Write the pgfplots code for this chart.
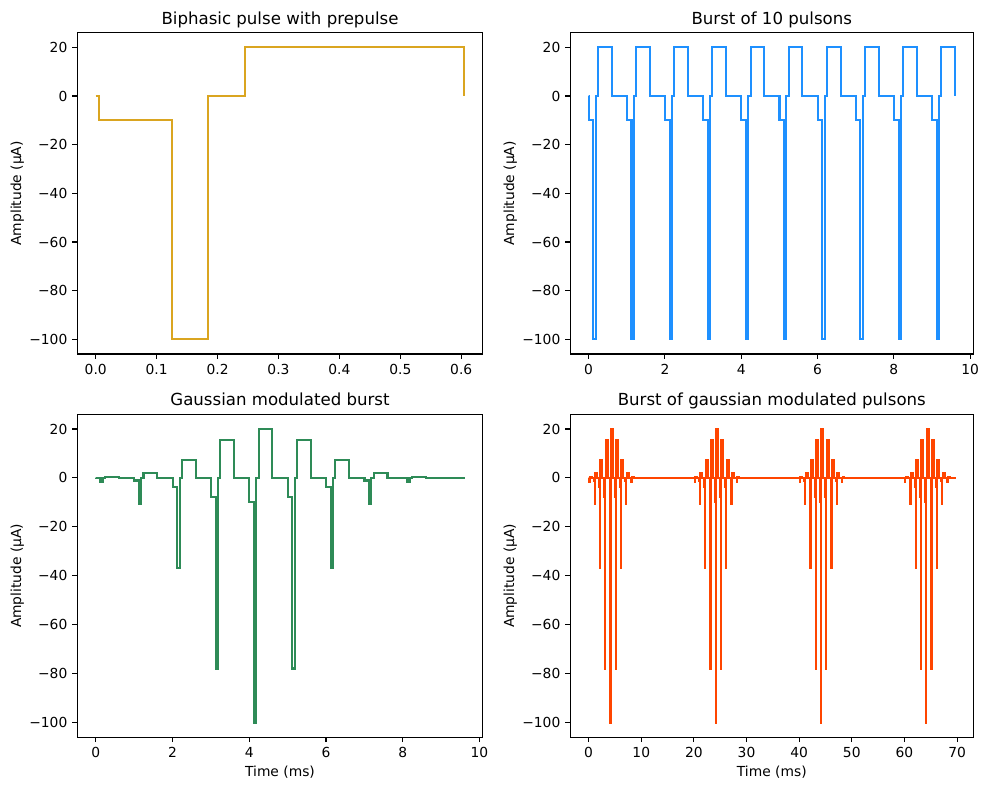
\documentclass[border=0pt]{standalone}
\usepackage{fontspec}
\setmainfont{DejaVu Sans}
\usepackage{pgfplots}
\pgfplotsset{compat=1.18}
\definecolor{cgold}{RGB}{218,165,32}
\definecolor{cblue}{RGB}{30,144,255}
\definecolor{cgreen}{RGB}{46,139,87}
\definecolor{cred}{RGB}{255,69,0}
\pgfplotsset{
  myax/.style={
    scale only axis,
    anchor=south west,
    axis line style={line width=0.8pt},
    every tick/.style={black, line width=0.8pt},
    major tick length=3.5pt,
    tick align=outside,
    xtick pos=bottom, ytick pos=left,
    minor tick num=0,
    ymin=-106, ymax=26,
    ytick={-100,-80,-60,-40,-20,0,20},
    yticklabels={−100,−80,−60,−40,−20,0,20},
    tick label style={font=\fontsize{10}{12}\selectfont},
    xticklabel style={inner sep=0pt, yshift=-3.5pt},
    yticklabel style={inner sep=0pt, xshift=-3.5pt},
    every axis title/.style={at={(axis description cs:0.5,1)}, anchor=base, yshift=6pt, inner sep=0pt, font=\fontsize{12}{14}\selectfont},
    ylabel={Amplitude (µA)},
    label style={font=\fontsize{10}{12}\selectfont},
    every axis y label/.style={at={(axis description cs:-0.148,0.5)}, rotate=90, anchor=center, inner sep=0pt},
    every axis x label/.style={at={(axis description cs:0.5,-0.107)}, anchor=center, inner sep=0pt},
    every axis plot/.append style={line width=1.5pt, line join=miter, miter limit=2},
  }
}
\begin{document}
\begin{tikzpicture}
\path[use as bounding box, fill=white] (0,0) rectangle (9.89in,7.90in);
% top-left
\begin{axis}[myax, at={(0.773in,4.36in)}, width=4.054in, height=3.213in,
  xmin=-0.03025, xmax=0.63525,
  xtick={0,0.1,0.2,0.3,0.4,0.5,0.6},
  xticklabels={0.0,0.1,0.2,0.3,0.4,0.5,0.6},
  title={Biphasic pulse with prepulse}]
\addplot[cgold, const plot] coordinates {
(0,0) (0.005,-10) (0.125,-100) (0.185,0) (0.245,20) (0.605,0)
};
\end{axis}
% top-right
\begin{axis}[myax, at={(5.703in,4.36in)}, width=4.03in, height=3.213in,
  xmin=-0.48025, xmax=10.08525,
  xtick={0,2,4,6,8,10}, xticklabels={0,2,4,6,8,10},
  every axis y label/.style={at={(axis description cs:-0.149,0.5)}, rotate=90, anchor=center, inner sep=0pt},
  title={Burst of 10 pulsons}]
\addplot[cblue, const plot] coordinates {
(0,0)
(0.005,-10) (0.125,-100) (0.185,0) (0.245,20) (0.605,0)
(1.005,-10) (1.125,-100) (1.185,0) (1.245,20) (1.605,0)
(2.005,-10) (2.125,-100) (2.185,0) (2.245,20) (2.605,0)
(3.005,-10) (3.125,-100) (3.185,0) (3.245,20) (3.605,0)
(4.005,-10) (4.125,-100) (4.185,0) (4.245,20) (4.605,0)
(5.005,-10) (5.125,-100) (5.185,0) (5.245,20) (5.605,0)
(6.005,-10) (6.125,-100) (6.185,0) (6.245,20) (6.605,0)
(7.005,-10) (7.125,-100) (7.185,0) (7.245,20) (7.605,0)
(8.005,-10) (8.125,-100) (8.185,0) (8.245,20) (8.605,0)
(9.005,-10) (9.125,-100) (9.185,0) (9.245,20) (9.605,0)
};
\end{axis}
% bottom-left
\begin{axis}[myax, at={(0.773in,0.527in)}, width=4.054in, height=3.23in,
  xmin=-0.48025, xmax=10.08525,
  xtick={0,2,4,6,8,10}, xticklabels={0,2,4,6,8,10},
  xlabel={Time (ms)},
  title={Gaussian modulated burst}]
\addplot[cgreen, const plot] coordinates {
(0,0)
(0.005,-0.183) (0.125,-1.83) (0.185,0) (0.245,0.366) (0.605,0)
(1.005,-1.054) (1.125,-10.54) (1.185,0) (1.245,2.108) (1.605,0)
(2.005,-3.679) (2.125,-36.79) (2.185,0) (2.245,7.358) (2.605,0)
(3.005,-7.788) (3.125,-77.88) (3.185,0) (3.245,15.576) (3.605,0)
(4.005,-10) (4.125,-100) (4.185,0) (4.245,20) (4.605,0)
(5.005,-7.788) (5.125,-77.88) (5.185,0) (5.245,15.576) (5.605,0)
(6.005,-3.679) (6.125,-36.79) (6.185,0) (6.245,7.358) (6.605,0)
(7.005,-1.054) (7.125,-10.54) (7.185,0) (7.245,2.108) (7.605,0)
(8.005,-0.183) (8.125,-1.83) (8.185,0) (8.245,0.366) (8.605,0)
(9.005,-0.019) (9.125,-0.193) (9.185,0) (9.245,0.039) (9.605,0)
};
\end{axis}
% bottom-right
\begin{axis}[myax, at={(5.703in,0.527in)}, width=4.03in, height=3.23in,
  xmin=-3.48025, xmax=73.08525,
  xtick={0,10,20,30,40,50,60,70}, xticklabels={0,10,20,30,40,50,60,70},
  xlabel={Time (ms)},
  every axis y label/.style={at={(axis description cs:-0.149,0.5)}, rotate=90, anchor=center, inner sep=0pt},
  title={Burst of gaussian modulated pulsons}]
\addplot[cred, const plot] coordinates {
(0,0)
(0.005,-0.183) (0.125,-1.83) (0.185,0) (0.245,0.366) (0.605,0)
(1.005,-1.054) (1.125,-10.54) (1.185,0) (1.245,2.108) (1.605,0)
(2.005,-3.679) (2.125,-36.79) (2.185,0) (2.245,7.358) (2.605,0)
(3.005,-7.788) (3.125,-77.88) (3.185,0) (3.245,15.576) (3.605,0)
(4.005,-10) (4.125,-100) (4.185,0) (4.245,20) (4.605,0)
(5.005,-7.788) (5.125,-77.88) (5.185,0) (5.245,15.576) (5.605,0)
(6.005,-3.679) (6.125,-36.79) (6.185,0) (6.245,7.358) (6.605,0)
(7.005,-1.054) (7.125,-10.54) (7.185,0) (7.245,2.108) (7.605,0)
(8.005,-0.183) (8.125,-1.83) (8.185,0) (8.245,0.366) (8.605,0)
(9.005,-0.019) (9.125,-0.193) (9.185,0) (9.245,0.039) (9.605,0)
(20.005,-0.183) (20.125,-1.83) (20.185,0) (20.245,0.366) (20.605,0)
(21.005,-1.054) (21.125,-10.54) (21.185,0) (21.245,2.108) (21.605,0)
(22.005,-3.679) (22.125,-36.79) (22.185,0) (22.245,7.358) (22.605,0)
(23.005,-7.788) (23.125,-77.88) (23.185,0) (23.245,15.576) (23.605,0)
(24.005,-10) (24.125,-100) (24.185,0) (24.245,20) (24.605,0)
(25.005,-7.788) (25.125,-77.88) (25.185,0) (25.245,15.576) (25.605,0)
(26.005,-3.679) (26.125,-36.79) (26.185,0) (26.245,7.358) (26.605,0)
(27.005,-1.054) (27.125,-10.54) (27.185,0) (27.245,2.108) (27.605,0)
(28.005,-0.183) (28.125,-1.83) (28.185,0) (28.245,0.366) (28.605,0)
(29.005,-0.019) (29.125,-0.193) (29.185,0) (29.245,0.039) (29.605,0)
(40.005,-0.183) (40.125,-1.83) (40.185,0) (40.245,0.366) (40.605,0)
(41.005,-1.054) (41.125,-10.54) (41.185,0) (41.245,2.108) (41.605,0)
(42.005,-3.679) (42.125,-36.79) (42.185,0) (42.245,7.358) (42.605,0)
(43.005,-7.788) (43.125,-77.88) (43.185,0) (43.245,15.576) (43.605,0)
(44.005,-10) (44.125,-100) (44.185,0) (44.245,20) (44.605,0)
(45.005,-7.788) (45.125,-77.88) (45.185,0) (45.245,15.576) (45.605,0)
(46.005,-3.679) (46.125,-36.79) (46.185,0) (46.245,7.358) (46.605,0)
(47.005,-1.054) (47.125,-10.54) (47.185,0) (47.245,2.108) (47.605,0)
(48.005,-0.183) (48.125,-1.83) (48.185,0) (48.245,0.366) (48.605,0)
(49.005,-0.019) (49.125,-0.193) (49.185,0) (49.245,0.039) (49.605,0)
(60.005,-0.183) (60.125,-1.83) (60.185,0) (60.245,0.366) (60.605,0)
(61.005,-1.054) (61.125,-10.54) (61.185,0) (61.245,2.108) (61.605,0)
(62.005,-3.679) (62.125,-36.79) (62.185,0) (62.245,7.358) (62.605,0)
(63.005,-7.788) (63.125,-77.88) (63.185,0) (63.245,15.576) (63.605,0)
(64.005,-10) (64.125,-100) (64.185,0) (64.245,20) (64.605,0)
(65.005,-7.788) (65.125,-77.88) (65.185,0) (65.245,15.576) (65.605,0)
(66.005,-3.679) (66.125,-36.79) (66.185,0) (66.245,7.358) (66.605,0)
(67.005,-1.054) (67.125,-10.54) (67.185,0) (67.245,2.108) (67.605,0)
(68.005,-0.183) (68.125,-1.83) (68.185,0) (68.245,0.366) (68.605,0)
(69.005,-0.019) (69.125,-0.193) (69.185,0) (69.245,0.039) (69.605,0)
};
\end{axis}
\end{tikzpicture}
\end{document}
